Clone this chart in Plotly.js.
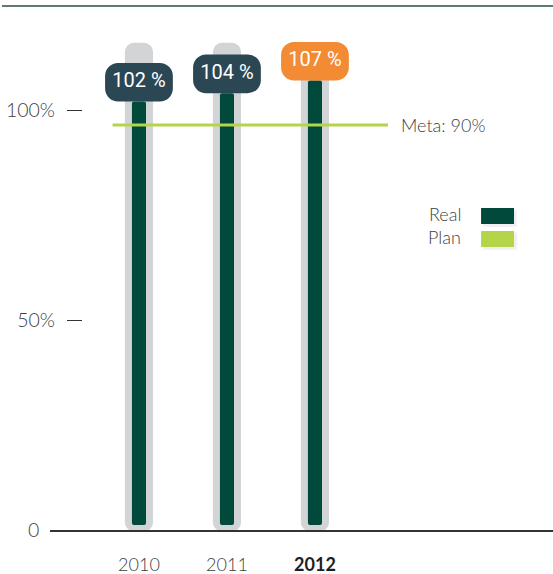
<!DOCTYPE html>
<html>
<head>
<meta charset="utf-8">
<script src="https://cdn.plot.ly/plotly-3.0.1.min.js"></script>
<style>html,body{margin:0;padding:0;background:#fff;}#chart{width:553px;height:574px;}</style>
</head>
<body>
<div id="chart"></div>
<script>
// ---- data ----
var years = ['2010', '2011', '2012'];
var realValues = [102, 104, 107];
var labelColors = ['#2b4754', '#2b4754', '#f38a34'];
var planValue = 96.4;          // position of the goal line as drawn
var metaLabel = 'Meta: 90%';
var trackMax = 116;            // top of grey background tracks
var yTickVals = [0, 50, 100];
var yTickText = ['0\u00A0\u00A0\u00A0', '50%', '100%'];
var highlightYear = '2012';
var legendNames = ['Real', 'Plan'];

// ---- derived ----
var darkGreen = '#014a3b';
var lime = '#b4d44a';
var grey = '#d3d4d6';
var textGrey = '#3f3f3f';
var boxH = 9.2;
var xFont = {family: 'Lato, sans-serif', weight: 300, size: 18, color: textGrey};
var yFont = {family: 'Lato, sans-serif', weight: 300, size: 19.5, color: textGrey};

function rep(v) { return years.map(function () { return v; }); }

var traces = [];
traces.push({type: 'bar', x: years, base: rep(-0.3), y: rep(trackMax + 0.3), width: 0.32,
  marker: {color: grey, cornerradius: 9}, hoverinfo: 'skip', showlegend: false});
traces.push({type: 'bar', name: legendNames[0], x: years, base: rep(1.2),
  y: realValues.map(function (v) { return v - 1.2; }), width: 0.16,
  marker: {color: darkGreen, cornerradius: 2}, hoverinfo: 'skip', showlegend: false});
traces.push({type: 'bar', x: years, base: realValues,
  y: rep(boxH), width: 0.77,
  marker: {color: labelColors, cornerradius: 13}, hoverinfo: 'skip', showlegend: false});
traces.push({type: 'scatter', mode: 'text', x: years,
  y: realValues.map(function (v) { return v + boxH / 2; }),
  text: realValues.map(function (v) { return v + ' %'; }), textposition: 'middle center',
  textfont: {family: 'Roboto, sans-serif', size: 20, color: '#ffffff'},
  hoverinfo: 'skip', showlegend: false, cliponaxis: false});

var annFont = {family: 'Lato, sans-serif', weight: 300, size: 18, color: textGrey};
var annotations = [];
annotations.push({x: 0.694, xref: 'paper', y: planValue, yref: 'y', text: metaLabel, showarrow: false,
  xanchor: 'left', yanchor: 'middle', font: annFont});
annotations.push({x: 0.822, xref: 'paper', y: 0.607, yref: 'paper', text: legendNames[0], showarrow: false,
  xanchor: 'right', yanchor: 'middle', font: annFont});
annotations.push({x: 0.822, xref: 'paper', y: 0.563, yref: 'paper', text: legendNames[1], showarrow: false,
  xanchor: 'right', yanchor: 'middle', font: annFont});

var shapes = [
  {type: 'line', xref: 'paper', yref: 'paper', x0: -0.0954, x1: 1, y0: 1.0077, y1: 1.0077,
    line: {color: '#5e7c6e', width: 2}},
  {type: 'line', xref: 'x', yref: 'y', x0: -0.30, x1: 2.83, y0: planValue, y1: planValue,
    line: {color: lime, width: 3}},
  {type: 'rect', xref: 'paper', yref: 'paper', x0: 0.861, x1: 0.928, y0: 0.583, y1: 0.616,
    line: {width: 0}, fillcolor: 'rgba(0,0,0,0.06)'},
  {type: 'rect', xref: 'paper', yref: 'paper', x0: 0.857, x1: 0.9225, y0: 0.5885, y1: 0.619,
    line: {width: 0}, fillcolor: darkGreen},
  {type: 'rect', xref: 'paper', yref: 'paper', x0: 0.861, x1: 0.928, y0: 0.539, y1: 0.572,
    line: {width: 0}, fillcolor: 'rgba(0,0,0,0.06)'},
  {type: 'rect', xref: 'paper', yref: 'paper', x0: 0.857, x1: 0.9225, y0: 0.544, y1: 0.575,
    line: {width: 0}, fillcolor: lime}
];

var layout = {
  width: 553, height: 574,
  margin: {l: 50, r: 0, t: 10, b: 44},
  paper_bgcolor: '#ffffff', plot_bgcolor: '#ffffff',
  barmode: 'overlay', showlegend: false,
  font: {family: 'Lato, sans-serif', color: textGrey},
  xaxis: {type: 'category', range: [-1.011, 4.705], showgrid: false, zeroline: false,
    showline: true, linecolor: '#333333', linewidth: 1.5,
    tickvals: years,
    ticktext: years.map(function (y) { return y === highlightYear ? '<b><span style="color:#1e1e1e">' + y + '</span></b>' : y; }),
    ticks: '', ticklabelstandoff: 18,
    tickfont: xFont, fixedrange: true},
  yaxis: {range: [0, 123.81], anchor: 'free', position: 0.0636, showgrid: false, zeroline: false,
    showline: false, tickvals: yTickVals, ticktext: yTickText, ticks: 'outside', ticklen: 15,
    tickcolor: '#333333', tickwidth: 1, ticklabelstandoff: 8,
    tickfont: yFont, fixedrange: true},
  shapes: shapes,
  annotations: annotations
};

Plotly.newPlot('chart', traces, layout, {staticPlot: true, displayModeBar: false});
</script>
</body>
</html>
